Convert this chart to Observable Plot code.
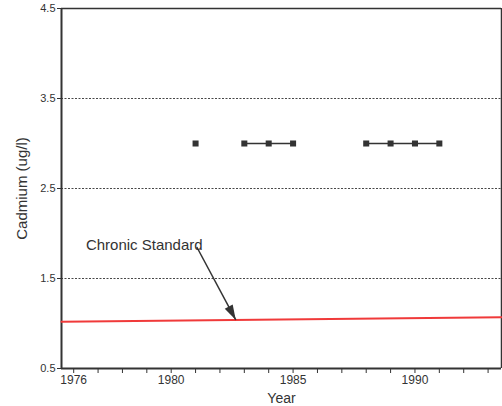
<!DOCTYPE html>
<html>
<head>
<meta charset="utf-8">
<script src="https://cdn.jsdelivr.net/npm/d3@7"></script>
<script src="https://cdn.jsdelivr.net/npm/@observablehq/plot@0.6"></script>
<style>
  html, body { margin: 0; padding: 0; background: #fff; }
  svg { display: block; }
</style>
</head>
<body>
<div id="chart"></div>
<script>
// Cadmium sampling results by year (ug/l)
const sampleYears = [1981, 1983, 1984, 1985, 1988, 1989, 1990, 1991];
const cadmium     = [3.0,  3.0,  3.0,  3.0,  3.0,  3.0,  3.0,  3.0];
const runGroup    = ["a",  "b",  "b",  "b",  "c",  "c",  "c",  "c"];

// Chronic standard line (ug/l) across the period
const standardYears  = [1975.5, 1993.55];
const standardValues = [1.02, 1.07];

// Axis ticks
const yTicks = [0.5, 1.5, 2.5, 3.5, 4.5];
const gridValues = [1.5, 2.5, 3.5];
const xTickYears = d3.range(1976, 1994);
const xLabelYears = [1976, 1980, 1985, 1990];

// Annotation
const noteText = ["Chronic Standard"];
const noteAt = {x: 1976.5, y: 1.87};
const arrowFrom = {x: 1981.05, y: 1.85};
const arrowTo = {x: 1982.65, y: 1.04};

const samples = sampleYears.map((y, i) => ({year: y, value: cadmium[i], run: runGroup[i]}));
const standard = standardYears.map((y, i) => ({year: y, value: standardValues[i]}));

const ink = "#333";
const xDomain = [1975.5, 1993.55];
const yDomain = [0.5, 4.5];
const W = 502, H = 406;
const M = {left: 61, right: 1, top: 8, bottom: 38};

// Slim filled arrowhead, tip at the origin, pointing up before rotation
const headSymbol = {
  draw(ctx) {
    ctx.moveTo(0, 0);
    ctx.lineTo(4.5, 15);
    ctx.lineTo(-4.5, 15);
    ctx.closePath();
  }
};

// Screen-space direction of the arrow, to rotate the head along the shaft
const sx = d3.scaleLinear(xDomain, [M.left, W - M.right]);
const sy = d3.scaleLinear(yDomain, [H - M.bottom, M.top]);
const dx = sx(arrowTo.x) - sx(arrowFrom.x);
const dy = sy(arrowTo.y) - sy(arrowFrom.y);
const headAngle = Math.atan2(dx, -dy) * 180 / Math.PI;

const chart = Plot.plot({
  width: W,
  height: H,
  marginLeft: M.left,
  marginRight: M.right,
  marginTop: M.top,
  marginBottom: M.bottom,
  style: {fontFamily: "Liberation Sans, Arial, sans-serif", color: ink, background: "#fff"},
  x: {domain: xDomain},
  y: {domain: yDomain},
  marks: [
    Plot.ruleY(gridValues, {stroke: ink, strokeWidth: 1, strokeDasharray: "2,1.5", strokeOpacity: 0.9}),
    Plot.ruleY([4.5], {stroke: ink, strokeWidth: 1.5}),
    Plot.ruleY([0.5], {stroke: ink, strokeWidth: 2}),
    Plot.ruleX([xDomain[0]], {stroke: ink, strokeWidth: 2}),
    Plot.ruleX([xDomain[1]], {stroke: ink, strokeWidth: 1.5}),
    Plot.line(standard, {x: "year", y: "value", stroke: "#f03a3a", strokeWidth: 2}),
    Plot.line(samples, {x: "year", y: "value", z: "run", stroke: ink, strokeWidth: 1.3}),
    Plot.dot(samples, {x: "year", y: "value", symbol: "square", r: 3.4, fill: ink, stroke: "none"}),
    Plot.link([{x1: arrowFrom.x, y1: arrowFrom.y, x2: arrowTo.x, y2: arrowTo.y}], {
      x1: "x1", y1: "y1", x2: "x2", y2: "y2", stroke: ink, strokeWidth: 1.5
    }),
    Plot.dot([arrowTo], {x: "x", y: "y", symbol: headSymbol, r: 1, fill: ink, stroke: "none", rotate: headAngle}),
    Plot.text(noteText, {x: noteAt.x, y: noteAt.y, text: d => d, textAnchor: "start", fontSize: 15, fill: ink}),
    Plot.axisY({
      ticks: yTicks, tickSize: 4, tickFormat: d => d.toFixed(1), fontSize: 11, tickPadding: 2,
      label: "Cadmium (ug/l)", labelAnchor: "center", labelArrow: "none", labelOffset: 45
    }),
    Plot.axisX({
      ticks: xTickYears, tickSize: 5, tickPadding: 2, fontSize: 12,
      tickFormat: d => xLabelYears.includes(d) ? String(d) : "",
      label: "Year", labelAnchor: "center", labelArrow: "none", labelOffset: 34
    })
  ]
});

// Larger type for axis titles
chart.querySelectorAll("[aria-label='y-axis label'] text").forEach(t => {
  t.setAttribute("font-size", 15);
  t.style.fontSize = "15px";
});
chart.querySelectorAll("[aria-label='x-axis label'] text").forEach(t => {
  t.setAttribute("font-size", 14);
  t.style.fontSize = "14px";
});

document.getElementById("chart").appendChild(chart);
</script>
</body>
</html>
